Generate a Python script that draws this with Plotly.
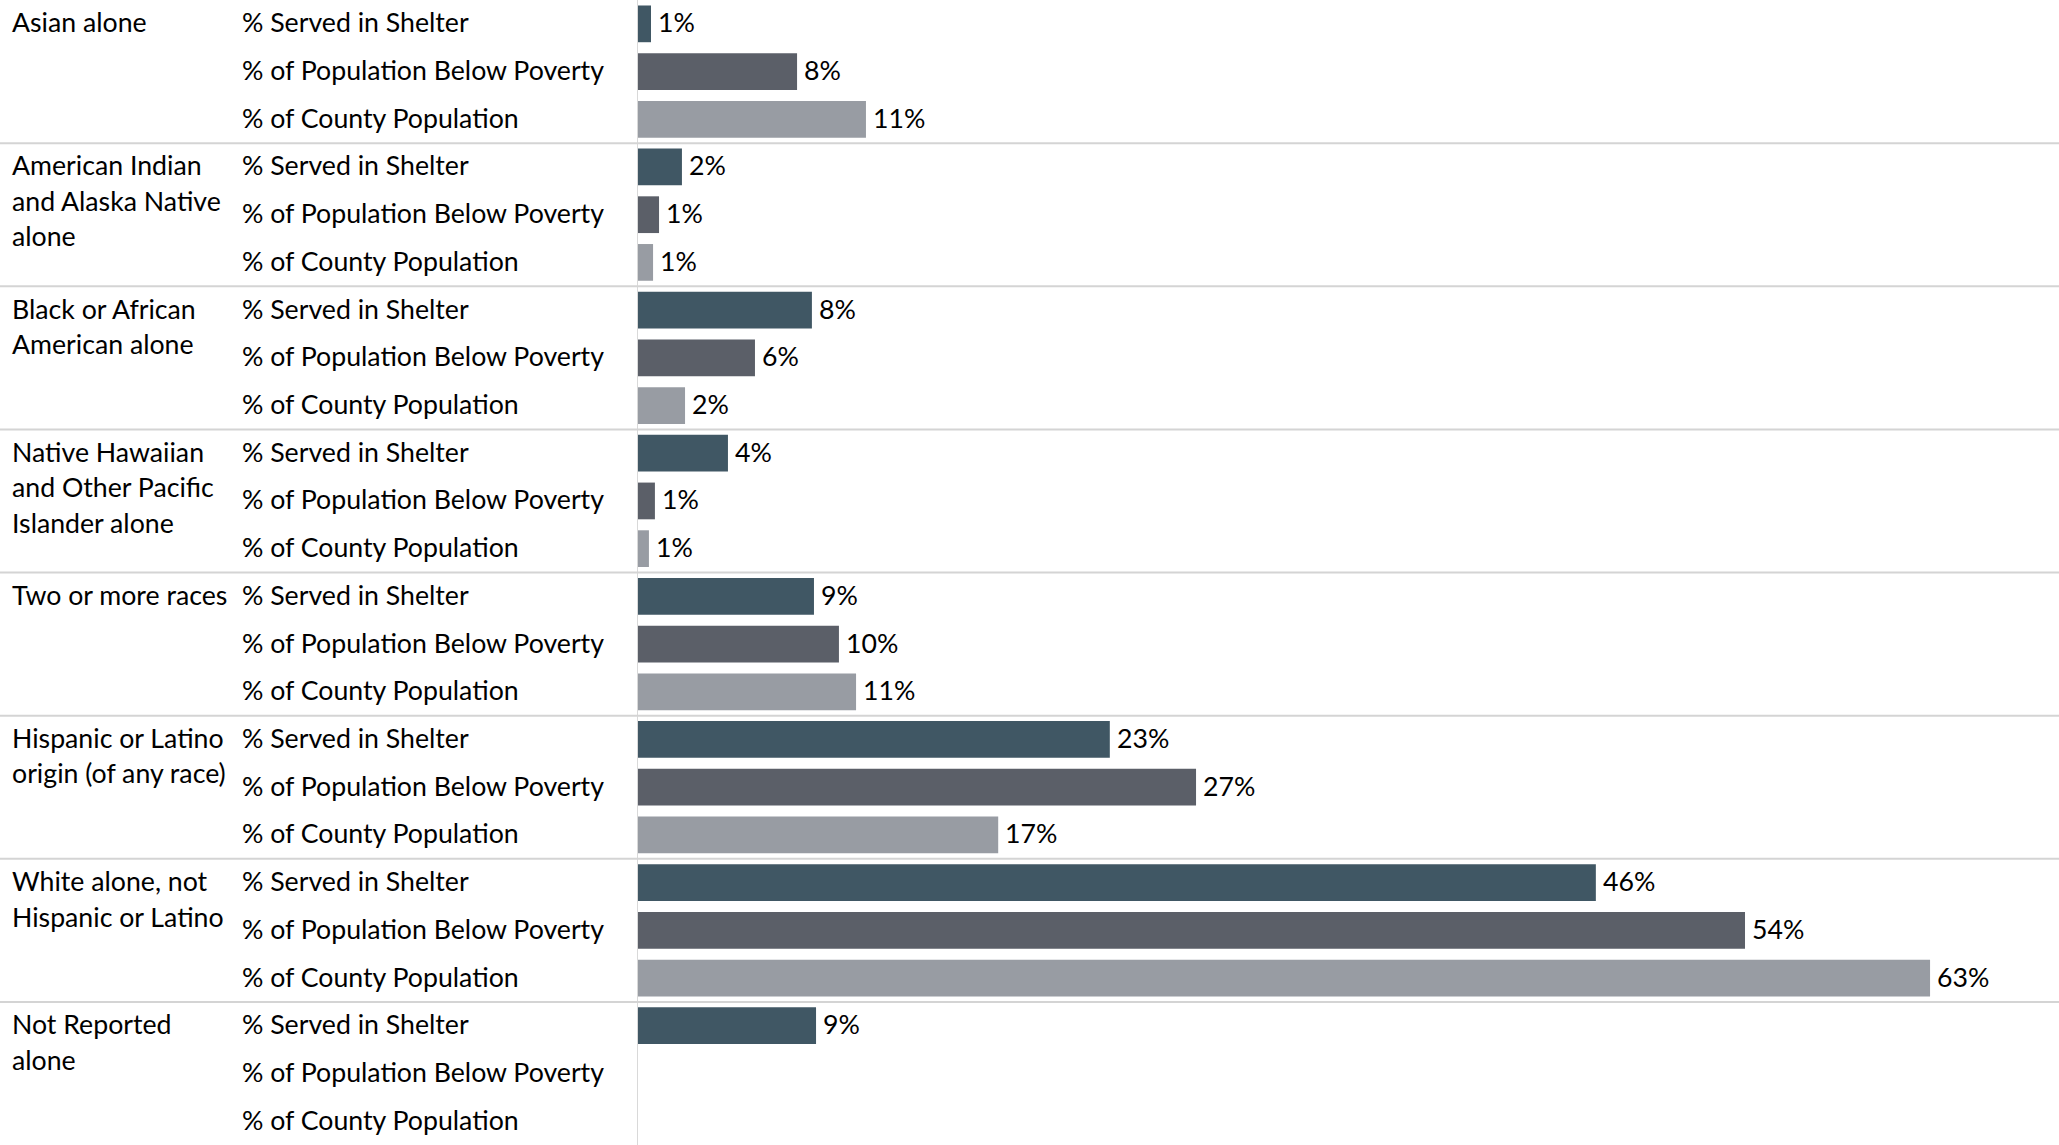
import plotly.graph_objects as go

# ---- data ----
groups = [
    "Asian alone",
    "American Indian and Alaska Native alone",
    "Black or African American alone",
    "Native Hawaiian and Other Pacific Islander alone",
    "Two or more races",
    "Hispanic or Latino origin (of any race)",
    "White alone, not Hispanic or Latino",
    "Not Reported alone",
]
group_lines = [
    ["Asian alone"],
    ["American Indian", "and Alaska Native", "alone"],
    ["Black or African", "American alone"],
    ["Native Hawaiian", "and Other Pacific", "Islander alone"],
    ["Two or more races"],
    ["Hispanic or Latino", "origin (of any race)"],
    ["White alone, not", "Hispanic or Latino"],
    ["Not Reported", "alone"],
]
measures = ["% Served in Shelter", "% of Population Below Poverty", "% of County Population"]

served_in_shelter = [0.63, 2.13, 8.43, 4.36, 8.53, 22.87, 46.43, 8.63]
below_poverty     = [7.71, 1.02, 5.67, 0.82, 9.74, 27.05, 53.66, 0.0]
county_population = [11.05, 0.73, 2.28, 0.53, 10.57, 17.46, 62.63, 0.0]

series = [served_in_shelter, below_poverty, county_population]
colors = ["#405764", "#5b5f68", "#989ca3"]

# ---- layout constants ----
W, H = 2059, 1145
LEFT = 638
XMAX = 68.88
FONT = "Lato, 'Open Sans', sans-serif"
FS = 26.7
YSH = 1.5
plot_w = W - LEFT

def px_to_paper(px):
    return (px - LEFT) / plot_w

fig = go.Figure()
n_meas = len(measures)
for k, (vals, col, name) in enumerate(zip(series, colors, measures)):
    ys = [g * n_meas + k for g in range(len(groups))]
    fig.add_trace(go.Bar(
        x=vals, y=ys, orientation="h", name=name,
        marker=dict(color=col, line=dict(width=0)),
        width=0.77, showlegend=False, hoverinfo="x",
    ))
    for v, y in zip(vals, ys):
        if v > 0:
            fig.add_annotation(
                x=v, y=y, xref="x", yref="y", text=f"{v:.0f}%",
                showarrow=False, xanchor="left", yanchor="middle", xshift=5, yshift=YSH,
                font=dict(family=FONT, size=FS, color="#000000"),
            )

n_rows = len(groups) * n_meas
row_px = H / n_rows
line_step = 35.5 / row_px
for g, lines in enumerate(group_lines):
    for i, ln in enumerate(lines):
        fig.add_annotation(
            x=px_to_paper(10), y=g * n_meas + i * line_step, xref="paper", yref="y",
            text=ln, showarrow=False, xanchor="left", yanchor="middle", yshift=YSH,
            font=dict(family=FONT, size=FS, color="#000000"),
        )
    for k, m in enumerate(measures):
        fig.add_annotation(
            x=px_to_paper(240), y=g * n_meas + k, xref="paper", yref="y",
            text=m, showarrow=False, xanchor="left", yanchor="middle", yshift=YSH,
            font=dict(family=FONT, size=FS, color="#000000"),
        )
    if g > 0:
        fig.add_shape(
            type="line", xref="paper", yref="y",
            x0=px_to_paper(0), x1=1, y0=g * n_meas - 0.5, y1=g * n_meas - 0.5,
            line=dict(color="#d4d4d4", width=2), layer="above",
        )

fig.update_layout(
    width=W, height=H,
    margin=dict(l=LEFT, r=0, t=0, b=0),
    paper_bgcolor="white", plot_bgcolor="white",
    barmode="overlay",
    xaxis=dict(range=[0, XMAX], visible=False, fixedrange=True),
    yaxis=dict(range=[n_rows - 0.5, -0.5], showticklabels=False, showgrid=False,
               zeroline=False, showline=True, linecolor="#d9d9d9", linewidth=1,
               ticks="", fixedrange=True),
)

fig.write_html(
    "out.html",
    config={"displayModeBar": False},
    post_script="document.body.style.margin='0';document.body.style.overflow='hidden';",
)
